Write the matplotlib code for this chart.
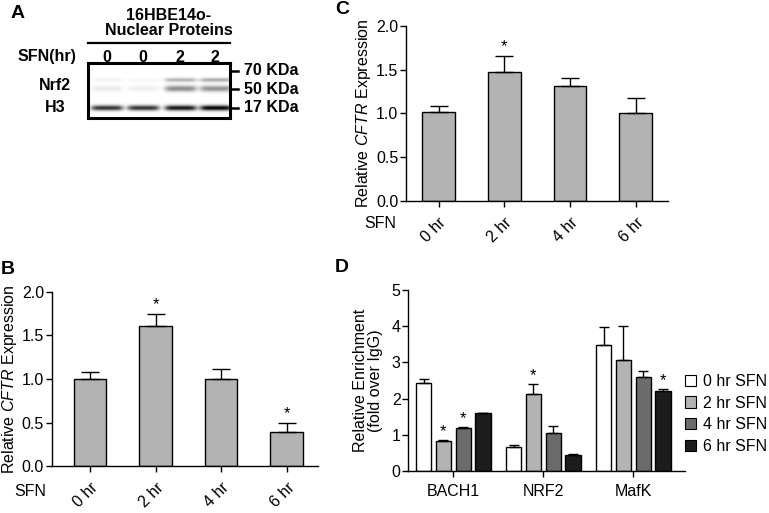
import numpy as np
import matplotlib
matplotlib.use("Agg")
import matplotlib.pyplot as plt
from matplotlib.patches import Patch

plt.rcParams['font.family'] = ['Liberation Sans', 'DejaVu Sans']
plt.rcParams['mathtext.fontset'] = 'custom'
plt.rcParams['mathtext.rm'] = 'Liberation Sans'
plt.rcParams['mathtext.it'] = 'Liberation Sans:italic'

# ---------------- data ----------------
time_labels = ["0 hr", "2 hr", "4 hr", "6 hr"]

b_means = [1.00, 1.61, 1.00, 0.39]
b_err = [0.08, 0.14, 0.11, 0.11]
b_sig = [False, True, False, True]

c_means = [1.01, 1.47, 1.31, 1.00]
c_err = [0.07, 0.18, 0.09, 0.18]
c_sig = [False, True, False, False]

d_groups = ["BACH1", "NRF2", "MafK"]
d_series = ["0 hr SFN", "2 hr SFN", "4 hr SFN", "6 hr SFN"]
d_means = {
    "0 hr SFN": [2.43, 0.65, 3.48],
    "2 hr SFN": [0.83, 2.13, 3.06],
    "4 hr SFN": [1.18, 1.04, 2.61],
    "6 hr SFN": [1.59, 0.44, 2.22],
}
d_err = {
    "0 hr SFN": [0.10, 0.07, 0.51],
    "2 hr SFN": [0.03, 0.26, 0.95],
    "4 hr SFN": [0.04, 0.20, 0.16],
    "6 hr SFN": [0.01, 0.02, 0.04],
}
d_sig = {
    "0 hr SFN": [False, False, False],
    "2 hr SFN": [True, True, False],
    "4 hr SFN": [True, False, False],
    "6 hr SFN": [False, False, True],
}
d_colors = ["#ffffff", "#b3b3b3", "#6b6b6b", "#1c1c1c"]

# western blot
blot_lanes = ["0", "0", "2", "2"]
nrf2_upper = [0.05, 0.03, 0.30, 0.33]
nrf2_lower = [0.08, 0.06, 0.45, 0.42]
h3_band = [0.80, 0.80, 0.92, 1.00]
marker_labels = ["70 KDa", "50 KDa", "17 KDa"]

W, H = 769, 513
fig = plt.figure(figsize=(W / 100, H / 100), dpi=100)


def fx(px):
    return px / W


def fy(py):
    return 1 - py / H


def add_axes_px(l, t, r, b):
    return fig.add_axes([fx(l), fy(b), fx(r) - fx(l), (b - t) / H])


FS = 11.5
bar_gray = "#b3b3b3"


def style_axes(ax):
    for s in ["top", "right"]:
        ax.spines[s].set_visible(False)
    for s in ["left", "bottom"]:
        ax.spines[s].set_linewidth(1.0)
    ax.tick_params(axis='both', direction='out', length=4, width=1.0,
                   labelsize=FS, pad=1.5)


def expr_panel(ax, means, errs, sig, xlim, sfn_xy):
    x = np.arange(len(means))
    ax.bar(x, means, width=0.5, color=bar_gray, edgecolor="black", linewidth=1.0,
           yerr=[np.zeros(len(errs)), errs], capsize=6.5,
           error_kw=dict(elinewidth=1.0, capthick=1.0, ecolor="black"), zorder=2)
    for xi, m, e, s in zip(x, means, errs, sig):
        if s:
            ax.text(xi, m + e + 0.02, "*", ha="center", va="bottom", fontsize=12)
    ax.set_xlim(*xlim)
    ax.set_ylim(0, 2.0)
    ax.set_yticks([0, 0.5, 1.0, 1.5, 2.0])
    ax.set_yticklabels(["0.0", "0.5", "1.0", "1.5", "2.0"])
    ax.set_xticks(x)
    ax.set_xticklabels(time_labels, rotation=45, ha="right", va="top",
                       rotation_mode="anchor")
    style_axes(ax)
    ax.tick_params(axis='x', pad=6)
    ax.set_ylabel(r"Relative $\it{CFTR}$ Expression", fontsize=FS, labelpad=2)
    fig.text(fx(sfn_xy[0]), fy(sfn_xy[1]), "SFN", fontsize=FS, ha="left", va="center")


# ---------------- Panel B ----------------
axB = add_axes_px(51.7, 291.7, 318, 466.3)
expr_panel(axB, b_means, b_err, b_sig, (-0.585, 3.48), (14, 492))

# ---------------- Panel C ----------------
axC = add_axes_px(406, 25.7, 668, 201)
expr_panel(axC, c_means, c_err, c_sig, (-0.495, 3.49), (364, 224))

# ---------------- Panel D ----------------
axD = add_axes_px(408.3, 290, 685, 471)
gx = np.arange(len(d_groups))
offsets = [-1.5, -0.5, 0.5, 1.5]
step = 0.219
for i, s in enumerate(d_series):
    xs = gx + offsets[i] * step
    axD.bar(xs, d_means[s], width=0.17, color=d_colors[i], edgecolor="black",
            linewidth=1.0, yerr=[np.zeros(3), d_err[s]], capsize=3.5,
            error_kw=dict(elinewidth=1.0, capthick=1.0, ecolor="black"),
            label=s, zorder=2)
    for xi, m, e, sg in zip(xs, d_means[s], d_err[s], d_sig[s]):
        if sg:
            axD.text(xi, m + e + 0.03, "*", ha="center", va="bottom", fontsize=12)
axD.set_xlim(-0.5, 2.574)
axD.set_ylim(0, 5)
axD.set_yticks([0, 1, 2, 3, 4, 5])
axD.set_xticks(gx)
axD.set_xticklabels(d_groups)
style_axes(axD)
axD.tick_params(axis='x', pad=5)
axD.set_ylabel("Relative Enrichment\n(fold over IgG)", fontsize=FS, labelpad=6,
               linespacing=1.05)
handles = [Patch(facecolor=c, edgecolor="black", linewidth=0.8) for c in d_colors]
fig.legend(handles, d_series, loc="center left",
           bbox_to_anchor=(fx(685), fy(414)), frameon=False, fontsize=FS,
           handlelength=0.7, handleheight=0.7, handletextpad=0.4,
           labelspacing=0.42, borderpad=0, borderaxespad=0)

# ---------------- Panel A (western blot) ----------------
axA = add_axes_px(88, 63, 230, 118)
bw, bh = 142, 55
yy, xx = np.mgrid[0:bh * 4, 0:bw * 4] / 4.0
img = np.zeros_like(xx)
lane_x = [19, 55, 92, 127]
for i, lx in enumerate(lane_x):
    hx = np.exp(-((xx - lx) / 16.0) ** 6)
    img += h3_band[i] * hx * np.exp(-((yy - 45.0) / 2.6) ** 2)
    img += nrf2_upper[i] * hx * np.exp(-((yy - 17.5) / 2.0) ** 2)
    img += nrf2_lower[i] * hx * np.exp(-((yy - 26.0) / 3.0) ** 2)
img = np.clip(img, 0, 1)
axA.imshow(1 - img, cmap="gray", vmin=0, vmax=1, extent=(0, bw, bh, 0),
           aspect="auto", interpolation="bilinear")
axA.set_xlim(0, bw)
axA.set_ylim(bh, 0)
axA.set_xticks([])
axA.set_yticks([])
for s in axA.spines.values():
    s.set_linewidth(2.2)

bold = dict(fontweight="bold", fontsize=11.5)
fig.text(fx(169), fy(16), "16HBE14o-", ha="center", va="center", **bold)
fig.text(fx(169), fy(31), "Nuclear Proteins", ha="center", va="center", **bold)
fig.add_artist(plt.Line2D([fx(88), fx(230)], [fy(43), fy(43)], color="black", lw=1.6))
fig.text(fx(18), fy(57), "SFN(hr)", ha="left", va="center", **bold)
for lab, lx in zip(blot_lanes, lane_x):
    fig.text(fx(88 + lx), fy(57), lab, ha="center", va="center", **bold)
fig.text(fx(55), fy(86), "Nrf2", ha="center", va="center", **bold)
fig.text(fx(55), fy(108), "H3", ha="center", va="center", **bold)
for lab, my in zip(marker_labels, [71, 89, 108]):
    fig.add_artist(plt.Line2D([fx(231), fx(238)], [fy(my), fy(my)], color="black", lw=1.8))
    fig.text(fx(244), fy(my), lab, ha="left", va="center", **bold)

# panel letters
lett = dict(fontweight="bold", fontsize=14, ha="left", va="center")
fig.text(fx(11), fy(14), "A", **lett)
fig.text(fx(1), fy(269), "B", **lett)
fig.text(fx(335), fy(9), "C", **lett)
fig.text(fx(335), fy(267), "D", **lett)

fig.savefig("out.png", dpi=100)
